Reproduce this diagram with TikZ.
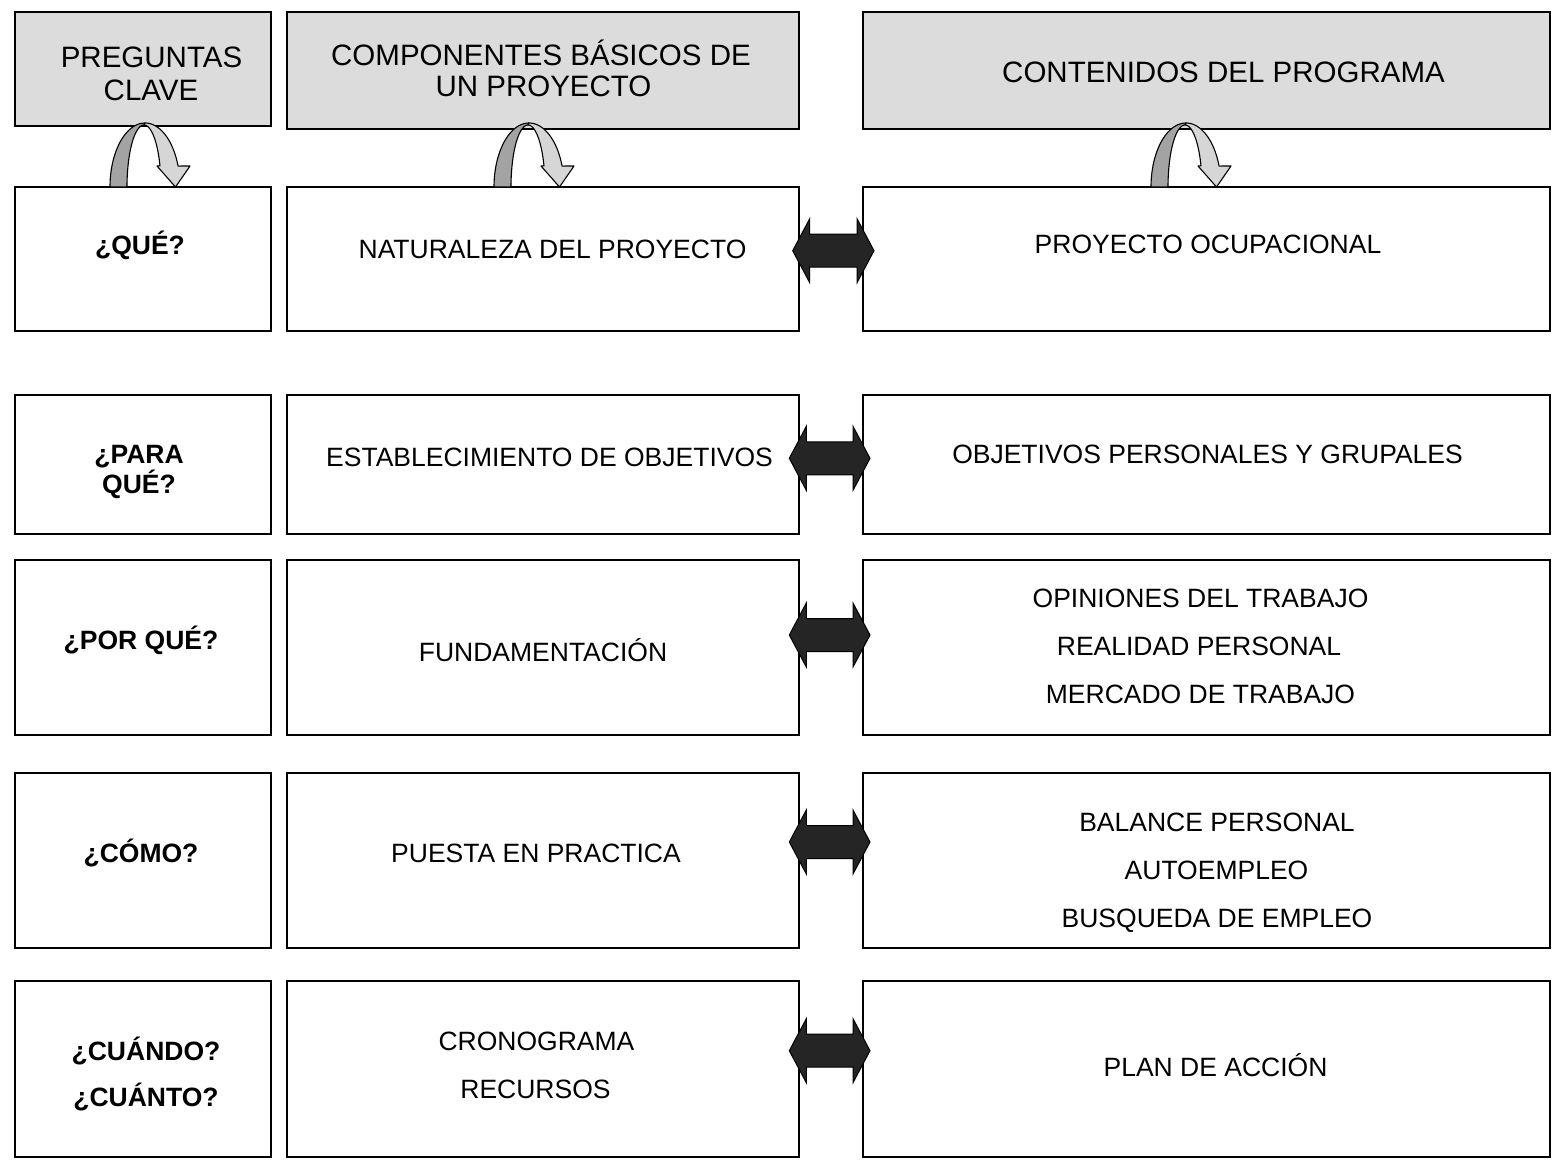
\documentclass[tikz,border=0pt]{standalone}
\usepackage{fontspec}
\setmainfont{Liberation Sans}
\definecolor{hdr}{HTML}{DCDCDC}
\definecolor{curldark}{HTML}{A3A3A3}
\definecolor{curllight}{HTML}{D6D6D6}
\definecolor{dblfill}{HTML}{252525}
\tikzset{
  bx/.style={draw=black, line width=1.2pt, inner sep=0pt, outer sep=0pt},
  hbx/.style={bx, fill=hdr},
  body/.style={font=\fontsize{26.5}{30}\selectfont, anchor=base, inner sep=0pt},
  bold/.style={font=\fontsize{26.5}{30}\selectfont\bfseries, anchor=base, inner sep=0pt},
  head/.style={font=\fontsize{29.5}{33}\selectfont, anchor=base, inner sep=0pt},
  curlA/.style={fill=curldark, draw=black, line width=1.1pt, line join=round},
  curlB/.style={fill=curllight, draw=black, line width=1.1pt, line join=round},
  dblarrow/.style={fill=dblfill, draw=black, line width=1pt, line join=miter}
}
\newcommand\mybox[6]{\node[#6, minimum width={(#4-#2)*1pt}, minimum height={(#5-#3)*1pt}] (#1) at ({(#2+#4)/2},{(#3+#5)/2}) {};}
\newcommand\curlarrow[1]{%
\begin{scope}[shift={(#1,0)}]
\path[curlA] plot[domain=180:90, samples=40, variable=\t] ({145+35*cos(\t)},{187-64*sin(\t)})
  -- plot[domain=90:180, samples=40, variable=\t] ({144+17*cos(\t)},{187-62*sin(\t)}) -- cycle;
\path[curlB] plot[domain=90:19.1, samples=40, variable=\t] ({145+35*cos(\t)},{187-64*sin(\t)})
  -- (190,166) -- (175.5,187) -- (157,166)
  -- plot[domain=20:90, samples=40, variable=\t] ({144+17*cos(\t)},{187-62*sin(\t)}) -- cycle;
\end{scope}}
\newcommand\dblarr[3]{%
\path[dblarrow] (#2,#1) -- ({#2+17},{#1-32}) -- ({#2+17},{#1-16.5}) -- ({#3-17},{#1-16.5})
  -- ({#3-17},{#1-32}) -- (#3,#1) -- ({#3-17},{#1+32}) -- ({#3-17},{#1+16.5})
  -- ({#2+17},{#1+16.5}) -- ({#2+17},{#1+32}) -- cycle;}
\begin{document}
\begin{tikzpicture}[x=1pt, y=-1pt]
\useasboundingbox (0,0) rectangle (1552,1159);
\fill[white] (0,0) rectangle (1552,1159);
% header boxes
\mybox{hA}{15}{12}{271}{126}{hbx}
\mybox{hB}{287}{12}{799}{129}{hbx}
\mybox{hC}{863}{12}{1550}{129}{hbx}
% rows
\mybox{a1}{15}{187}{271}{331}{bx}
\mybox{b1}{287}{187}{799}{331}{bx}
\mybox{c1}{863}{187}{1550}{331}{bx}
\mybox{a2}{15}{395}{271}{534}{bx}
\mybox{b2}{287}{395}{799}{534}{bx}
\mybox{c2}{863}{395}{1550}{534}{bx}
\mybox{a3}{15}{560}{271}{735}{bx}
\mybox{b3}{287}{560}{799}{735}{bx}
\mybox{c3}{863}{560}{1550}{735}{bx}
\mybox{a4}{15}{773}{271}{948}{bx}
\mybox{b4}{287}{773}{799}{948}{bx}
\mybox{c4}{863}{773}{1550}{948}{bx}
\mybox{a5}{15}{981}{271}{1157}{bx}
\mybox{b5}{287}{981}{799}{1157}{bx}
\mybox{c5}{863}{981}{1550}{1157}{bx}
% header texts
\node[head] (tA1) at (151.5,67) {PREGUNTAS};
\node[head] (tA2) at (151,100.5) {CLAVE};
\node[head] (tB1) at (541,65.5) {COMPONENTES BÁSICOS DE};
\node[head] (tB2) at (543.5,96.5) {UN PROYECTO};
\node[head] (tC1) at (1223.5,82.5) {CONTENIDOS DEL PROGRAMA};
% row 1
\node[bold] (q1) at (140,254.5) {¿QUÉ?};
\node[body] (m1) at (552.5,258.5) {NATURALEZA DEL PROYECTO};
\node[body] (r1) at (1208,253.5) {PROYECTO OCUPACIONAL};
% row 2
\node[bold] (q2a) at (139,463.5) {¿PARA};
\node[bold] (q2b) at (139,493.5) {QUÉ?};
\node[body] (m2) at (549.5,466.5) {ESTABLECIMIENTO DE OBJETIVOS};
\node[body] (r2) at (1207.5,463.5) {OBJETIVOS PERSONALES Y GRUPALES};
% row 3
\node[bold] (q3) at (141,649.5) {¿POR QUÉ?};
\node[body] (m3) at (543,661.5) {FUNDAMENTACIÓN};
\node[body] (r3a) at (1200.5,607.5) {OPINIONES DEL TRABAJO};
\node[body] (r3b) at (1199,655.5) {REALIDAD PERSONAL};
\node[body] (r3c) at (1200.5,703.5) {MERCADO DE TRABAJO};
% row 4
\node[bold] (q4) at (141,862.5) {¿CÓMO?};
\node[body] (m4) at (536,862.5) {PUESTA EN PRACTICA};
\node[body] (r4a) at (1217,831.5) {BALANCE PERSONAL};
\node[body] (r4b) at (1216.5,879.5) {AUTOEMPLEO};
\node[body] (r4c) at (1217,927.5) {BUSQUEDA DE EMPLEO};
% row 5
\node[bold] (q5a) at (146,1060.5) {¿CUÁNDO?};
\node[bold] (q5b) at (146,1106.5) {¿CUÁNTO?};
\node[body] (m5a) at (536.5,1050.5) {CRONOGRAMA};
\node[body] (m5b) at (535.5,1098.5) {RECURSOS};
\node[body] (r5) at (1215.5,1076.5) {PLAN DE ACCIÓN};
% curved arrows
\curlarrow{0}
\curlarrow{384}
\curlarrow{1041}
% double arrows
\dblarr{250.7}{792.7}{874}
\dblarr{458.3}{789.3}{870}
\dblarr{635}{789.3}{870}
\dblarr{842}{789.3}{870}
\dblarr{1050.7}{789.3}{870}
\end{tikzpicture}
\end{document}
